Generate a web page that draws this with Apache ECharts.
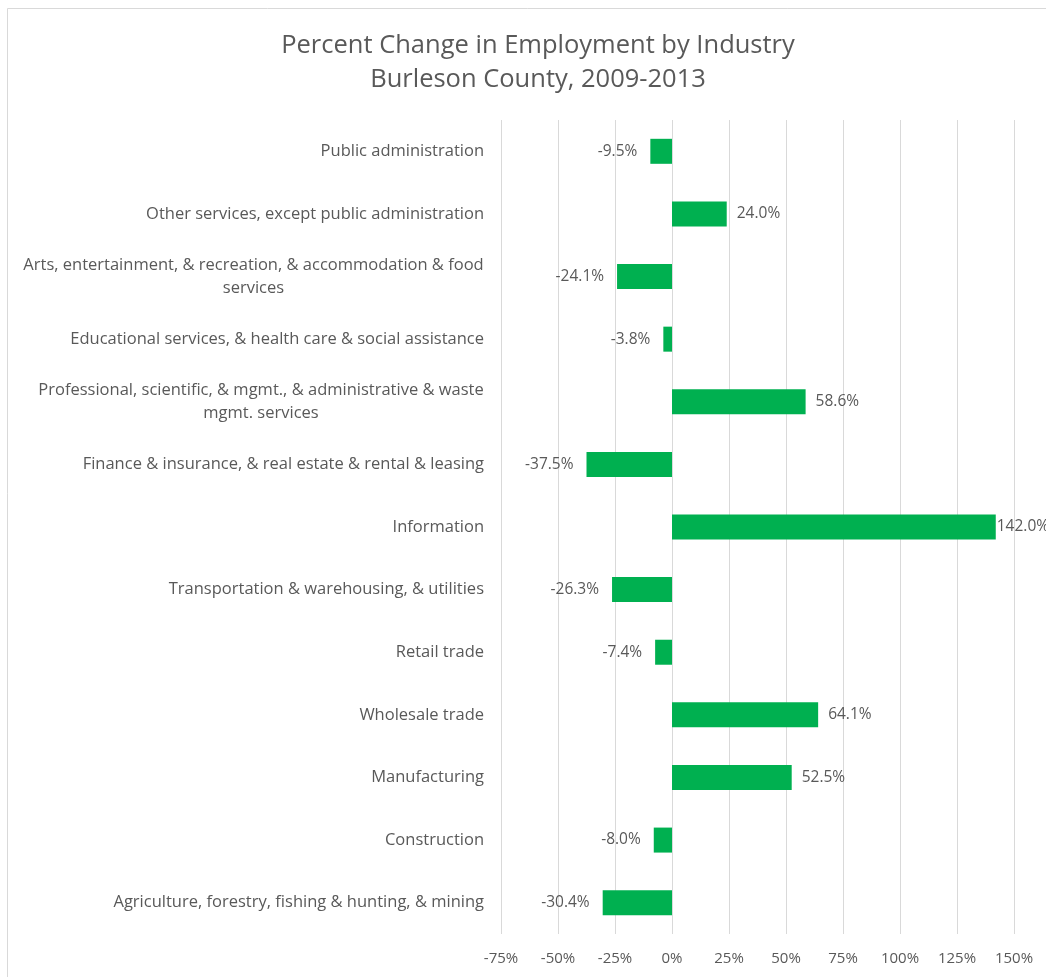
<!DOCTYPE html>
<html>
<head>
<meta charset="utf-8">
<script src="https://cdn.jsdelivr.net/npm/echarts@6/dist/echarts.min.js"></script>
<style>
html,body{margin:0;padding:0;background:#fff;}
#chart{width:1046px;height:977px;}
</style>
</head>
<body>
<div id="chart"></div>
<script>
const titleLines = ['Percent Change in Employment by Industry', 'Burleson County, 2009-2013'];
const categories = [
  'Public administration',
  'Other services, except public administration',
  'Arts, entertainment, & recreation, & accommodation & food\nservices',
  'Educational services, & health care & social assistance',
  'Professional, scientific, & mgmt., & administrative & waste\nmgmt. services',
  'Finance & insurance, & real estate & rental & leasing',
  'Information',
  'Transportation & warehousing, & utilities',
  'Retail trade',
  'Wholesale trade',
  'Manufacturing',
  'Construction',
  'Agriculture, forestry, fishing & hunting, & mining'
];
const values = [-9.5, 24.0, -24.1, -3.8, 58.6, -37.5, 142.0, -26.3, -7.4, 64.1, 52.5, -8.0, -30.4];
const xTicks = {min: -75, max: 150, interval: 25};

const FONT = '"Open Sans", Lato, sans-serif';
const TXT = '#595959';
const LABEL_SIZE = 16.5;

const ctx = document.createElement('canvas').getContext('2d');
ctx.font = LABEL_SIZE + 'px ' + FONT;
const rich = {};
categories.forEach((c, i) => {
  const lines = c.split('\n');
  if (lines.length > 1) {
    const w = Math.max.apply(null, lines.map(l => ctx.measureText(l).width));
    rich['c' + i] = {width: Math.ceil(w), align: 'center', fontSize: LABEL_SIZE, color: TXT, fontFamily: FONT, lineHeight: 23};
  }
});

function labelDistance(v) {
  if (v < 0) return 13;
  // labels near the right end are pushed against the bar end (as in the original)
  return (xTicks.max - v) < 15 ? 1 : 10;
}

const chart = echarts.init(document.getElementById('chart'), null, {renderer: 'canvas'});
chart.setOption({
  backgroundColor: '#fff',
  animation: false,
  title: {
    text: titleLines.join('\n'),
    left: 533,
    textAlign: 'center',
    top: 24,
    textStyle: {fontFamily: FONT, fontSize: 25.5, fontWeight: 'normal', color: TXT, lineHeight: 34}
  },
  graphic: [{
    type: 'rect', shape: {x: 7.5, y: 8.5, width: 1100, height: 1100},
    style: {fill: 'none', stroke: '#d9d9d9', lineWidth: 1}, silent: true, z: -1
  }],
  grid: {left: 501, right: 32, top: 120, bottom: 43},
  xAxis: {
    type: 'value',
    min: xTicks.min, max: xTicks.max, interval: xTicks.interval,
    axisLine: {show: false}, axisTick: {show: false},
    splitLine: {show: true, lineStyle: {color: '#d9d9d9', width: 1}},
    axisLabel: {formatter: '{value}%', color: TXT, fontFamily: FONT, fontSize: 15, margin: 17}
  },
  yAxis: {
    type: 'category', data: categories, inverse: true,
    axisLine: {show: false}, axisTick: {show: false},
    axisLabel: {
      color: TXT, fontFamily: FONT, fontSize: LABEL_SIZE, margin: 17, lineHeight: 23,
      formatter: function (value) {
        const i = categories.indexOf(value);
        const lines = value.split('\n');
        if (lines.length === 1) return value;
        return lines.map(l => '{c' + i + '|' + l + '}').join('\n');
      },
      rich: rich
    }
  },
  series: [{
    type: 'bar',
    barWidth: 25,
    itemStyle: {color: '#00b050'},
    data: values.map(v => ({
      value: v,
      label: {position: v < 0 ? 'left' : 'right', distance: labelDistance(v)}
    })),
    label: {
      show: true, color: TXT, fontFamily: FONT, fontSize: 15.5,
      formatter: p => p.value.toFixed(1) + '%'
    }
  }]
});
</script>
</body>
</html>
